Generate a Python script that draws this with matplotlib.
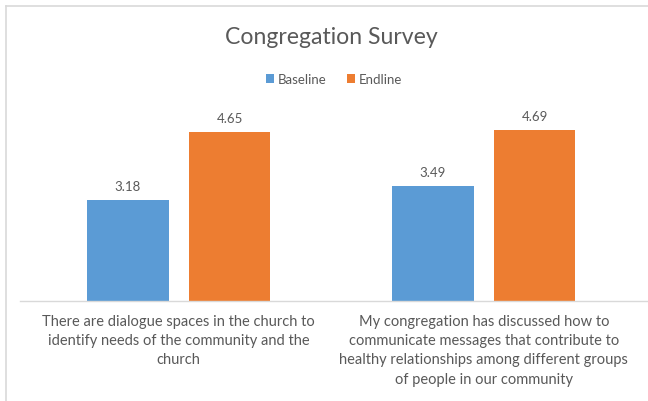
import matplotlib.pyplot as plt
import numpy as np
from matplotlib.lines import Line2D

# chart data
categories = [
    "There are dialogue spaces in the church to\nidentify needs of the community and the\nchurch",
    "My congregation has discussed how to\ncommunicate messages that contribute to\nhealthy relationships among different groups\nof people in our community",
]
series_names = ["Baseline", "Endline"]
baseline = [3.18, 3.49]
endline = [4.65, 4.69]

blue = "#5B9BD5"
orange = "#ED7D31"
text_col = "#595959"

plt.rcParams['font.family'] = ['Lato', 'DejaVu Sans']

W, H = 648, 402
fig = plt.figure(figsize=(W / 100, H / 100), dpi=100)

# plot area in pixels
left_px, right_px, top_px, bot_px = 20, 648, 116.3, 302.3
ax = fig.add_axes([left_px / W, 1 - bot_px / H, (right_px - left_px) / W, (bot_px - top_px) / H])

x = np.arange(len(categories))
w = 0.267
off = 0.167
b1 = ax.bar(x - off, baseline, w, color=blue, label=series_names[0], zorder=2)
b2 = ax.bar(x + off, endline, w, color=orange, label=series_names[1], zorder=2)

for bars, vals in [(b1, baseline), (b2, endline)]:
    for rect, v in zip(bars, vals):
        ax.annotate(f"{v:.2f}", (rect.get_x() + rect.get_width() / 2, v),
                    xytext=(0, 14), textcoords="offset pixels",
                    ha="center", va="center", color=text_col, fontsize=9.5)

ax.set_ylim(1, 5)
scale = 305.0
ax.set_xlim(-(178.8 - left_px) / scale, (right_px - 178.8) / scale)

for s in ["top", "right", "left"]:
    ax.spines[s].set_visible(False)
ax.spines["bottom"].set_color("#D9D9D9")
ax.spines["bottom"].set_linewidth(1.0)
ax.set_yticks([])
ax.set_xticks(x)
ax.set_xticklabels(categories, color=text_col, fontsize=10.5, linespacing=1.48)
ax.tick_params(axis="x", length=0, pad=9)

fig.text(331 / W, 1 - 38 / H, "Congregation Survey", ha="center", va="center",
         fontsize=16.6, color=text_col)

fig.legend(handles=[b1, b2], labels=series_names, loc="center",
           bbox_to_anchor=(334 / W, 1 - 80 / H), ncol=2, frameon=False,
           fontsize=9.5, labelcolor=text_col, handlelength=0.6, handleheight=0.6,
           handletextpad=0.3, columnspacing=1.5)

# chart border
fig.add_artist(Line2D([6 / W, 6 / W], [0, 1 - 7 / H], color="#D9D9D9", lw=1.2))
fig.add_artist(Line2D([6 / W, 1], [1 - 7 / H, 1 - 7 / H], color="#D9D9D9", lw=1.2))

fig.savefig("out.png", dpi=100)
